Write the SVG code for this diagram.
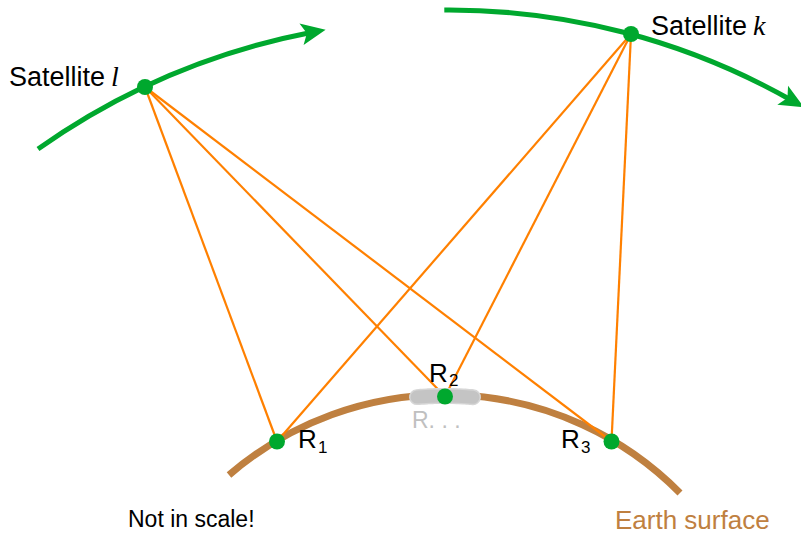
<svg xmlns="http://www.w3.org/2000/svg" width="801" height="534" viewBox="0 0 801 534">
<style>
.orbit{fill:none;stroke:#00a82e;stroke-width:5;}
.link{stroke:#ff8000;stroke-width:2.2;fill:none;}
.node{fill:#00a82e;}
.lbl{font-family:"Liberation Sans",Arial,sans-serif;fill:#000;}
.math{font-family:"Liberation Serif","Times New Roman",serif;font-style:italic;fill:#000;}
</style>
<defs>
<marker id="arr" markerUnits="userSpaceOnUse" markerWidth="30" markerHeight="30" viewBox="-10 -10 22 20" refX="0" refY="0" orient="auto" overflow="visible">
<path d="M11,0 L-7,-8 L-3,0 L-7,8 Z" fill="#00a82e"/>
</marker>
</defs>
<rect width="801" height="534" fill="#fff"/>
<g id="earth">
<path d="M229,475 A330.5,330.5 0 0 1 680,493" fill="none" stroke="#bf8040" stroke-width="7"/>
</g>
<g id="orbits">
<path class="orbit" d="M38,149 A703,703 0 0 1 310.9,32.5" marker-end="url(#arr)"/>
<path class="orbit" d="M444.3,10 A694,694 0 0 1 791,100" marker-end="url(#arr)"/>
</g>
<g id="connectors">
<line class="link" x1="145" y1="87" x2="277" y2="441.5"/>
<line class="link" x1="145" y1="87" x2="445" y2="396.5"/>
<line class="link" x1="145" y1="87" x2="611.5" y2="441.5"/>
<line class="link" x1="631" y1="34" x2="277" y2="441.5"/>
<line class="link" x1="631" y1="34" x2="445" y2="396.5"/>
<line class="link" x1="631" y1="34" x2="611.5" y2="441.5"/>
</g>
<g id="r-dots">
<path d="M417,397.1 A330.5,330.5 0 0 1 473,397.2" fill="none" stroke="#d6d6d6" stroke-width="16" stroke-linecap="round" stroke-dasharray="4 2"/>
<path d="M417,397.1 A330.5,330.5 0 0 1 473,397.2" fill="none" stroke="#c4c4c4" stroke-width="13" stroke-linecap="round"/>
<text x="412" y="428" font-family="Liberation Sans,Arial,sans-serif" font-size="23" fill="#c0c0c0">R. . .</text>
</g>
<g id="sat-l">
<circle class="node" cx="145" cy="87" r="8"/>
<text class="lbl" x="9" y="86" font-size="27">Satellite</text>
<text class="math" x="111" y="86" font-size="28">l</text>
</g>
<g id="sat-k">
<circle class="node" cx="631" cy="34" r="8"/>
<text class="lbl" x="651" y="35" font-size="27">Satellite</text>
<text class="math" x="753" y="35" font-size="28">k</text>
</g>
<g id="r1">
<circle class="node" cx="277" cy="441.5" r="8"/>
<text class="lbl" x="298" y="448" font-size="26">R</text>
<text class="lbl" x="318" y="453" font-size="17">1</text>
</g>
<g id="r2">
<circle class="node" cx="445" cy="396.5" r="8"/>
<text class="lbl" x="429" y="382" font-size="26">R</text>
<text class="lbl" x="449" y="386" font-size="17">2</text>
</g>
<g id="r3">
<circle class="node" cx="611.5" cy="441.5" r="8"/>
<text class="lbl" x="561" y="448" font-size="26">R</text>
<text class="lbl" x="581" y="453" font-size="17">3</text>
</g>
<g id="notes">
<text class="lbl" x="128" y="527" font-size="23">Not in scale!</text>
<text x="615" y="529" font-family="Liberation Sans,Arial,sans-serif" font-size="26" fill="#bf8040">Earth surface</text>
</g>
</svg>
